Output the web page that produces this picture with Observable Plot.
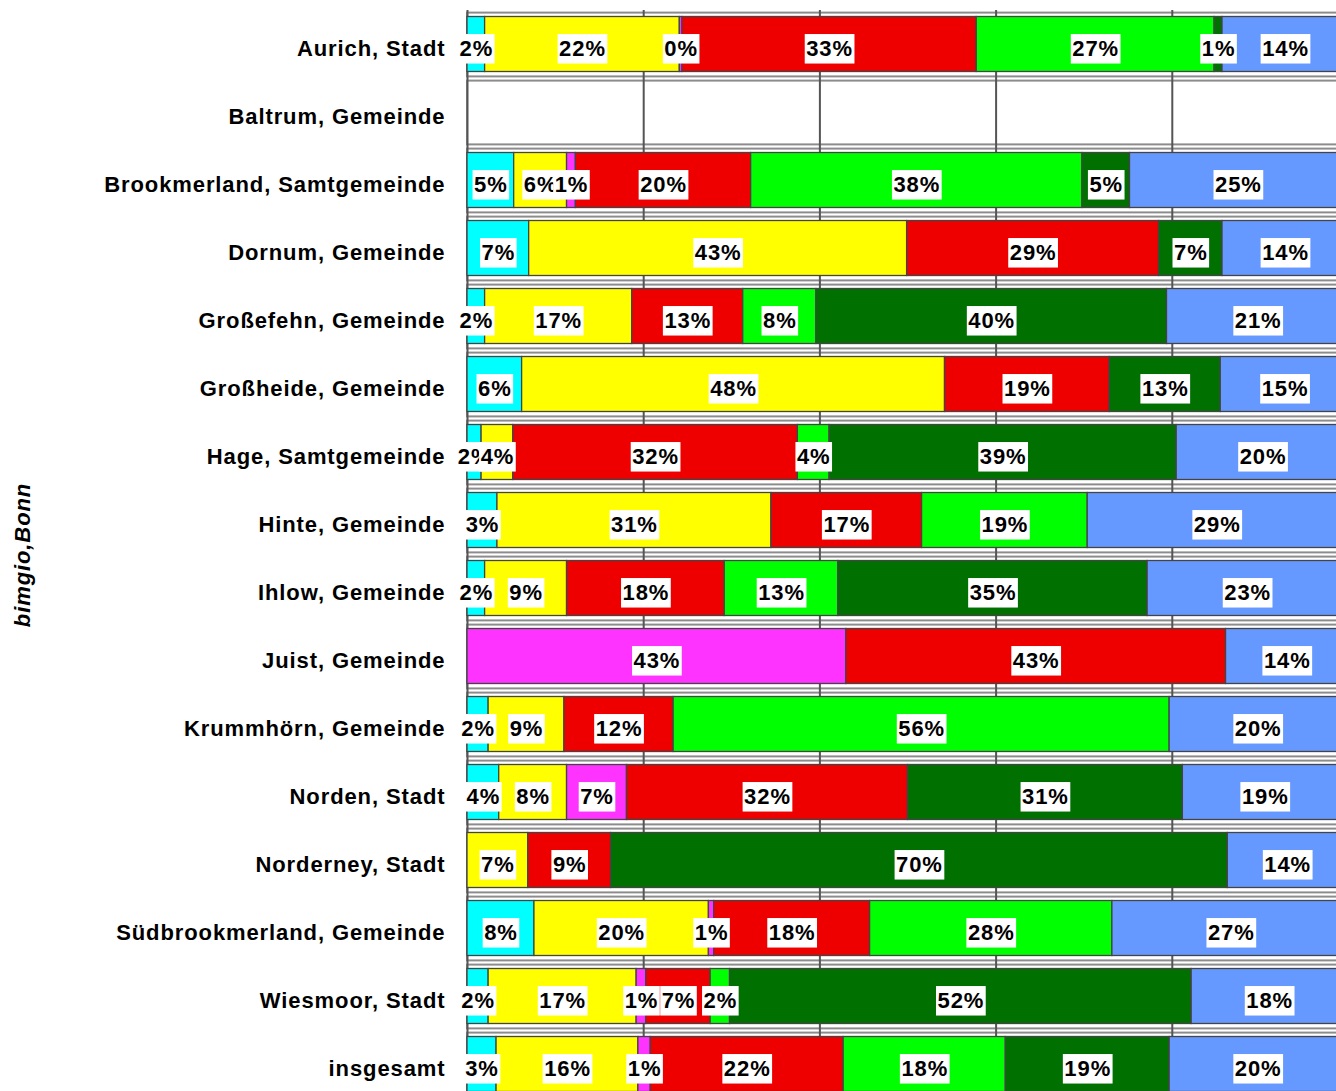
<!DOCTYPE html>
<html><head><meta charset="utf-8">
<script src="https://cdn.jsdelivr.net/npm/d3@7"></script>
<script src="https://cdn.jsdelivr.net/npm/@observablehq/plot@0.6"></script>
<style>
html,body{margin:0;padding:0;background:#fff;overflow:hidden;}
#chart svg text{letter-spacing:0.9px;}
</style></head><body><div id="chart"></div>
<script>
const categories = ["Aurich, Stadt","Baltrum, Gemeinde","Brookmerland, Samtgemeinde","Dornum, Gemeinde","Großefehn, Gemeinde","Großheide, Gemeinde","Hage, Samtgemeinde","Hinte, Gemeinde","Ihlow, Gemeinde","Juist, Gemeinde","Krummhörn, Gemeinde","Norden, Stadt","Norderney, Stadt","Südbrookmerland, Gemeinde","Wiesmoor, Stadt","insgesamt"];
const seriesNames = ["S1","S2","S3","S4","S5","S6","S7"];
const seriesColors = ["#00ffff","#ffff00","#ff33ff","#ee0000","#00ff00","#007000","#6699ff"];
const s1 = [2.0, null, 5.3, 7.0, 2.0, 6.2, 1.6, 3.4, 2.0, null, 2.4, 3.6, null, 7.6, 2.4, 3.3];
const s2 = [22.1, null, 6.0, 42.9, 16.7, 48.0, 3.6, 31.1, 9.3, null, 8.6, 7.7, 6.9, 19.8, 16.8, 16.1];
const s3 = [0.3, null, 1.0, null, null, null, null, null, null, 43.0, null, 6.8, null, 0.6, 1.1, 1.4];
const s4 = [33.4, null, 19.9, 28.6, 12.6, 18.7, 32.3, 17.1, 17.9, 43.1, 12.4, 31.9, 9.4, 17.7, 7.3, 21.9];
const s5 = [27.0, null, 37.6, null, 8.3, null, 3.6, 18.8, 12.9, null, 56.3, null, null, 27.5, 2.2, 18.4];
const s6 = [0.9, null, 5.4, 7.2, 39.8, 12.6, 39.4, null, 35.1, null, null, 31.2, 70.0, null, 52.4, 18.6];
const s7 = [14.3, null, 24.6, 14.3, 20.7, 14.6, 19.6, 29.4, 22.7, 13.9, 20.1, 18.7, 13.6, 27.0, 17.7, 20.1];
const gridTicks = [0, 20, 40, 60, 80];
const yTitle = "bimgio,Bonn";

const seriesValues = [s1, s2, s3, s4, s5, s6, s7];
const data = [];
categories.forEach((cat, i) => {
  seriesNames.forEach((s, j) => {
    const v = seriesValues[j][i];
    if (v != null && v > 0) data.push({cat, series: s, value: v});
  });
});

const W = 1336, H = 1091;
const chart = Plot.plot({
  width: W, height: H,
  marginLeft: 467, marginRight: 0, marginTop: 0, marginBottom: 0,
  style: {fontFamily: "'Liberation Sans', Arial, sans-serif", fontSize: "22px", background: "#fff", overflow: "hidden"},
  x: {domain: [0, 100], range: [467, 1348], axis: null},
  y: {domain: categories, range: [9.4, 9.4 + 16 * 68.13], padding: 0},
  color: {type: "ordinal", domain: seriesNames, range: seriesColors},
  marks: [
    Plot.barX(categories, {x1: 0, x2: 130, y: d => d, fill: "none", stroke: "#8c8c8c", strokeWidth: 2, insetTop: 2.6, insetBottom: 1.6}),
    Plot.ruleX(gridTicks, {x: d => d, stroke: "#555", strokeWidth: 2, insetTop: 10}),
    Plot.barX(data, Plot.stackX({x: "value", y: "cat", fill: "series", stroke: "#444", strokeWidth: 1.3, insetTop: 6.5, insetBottom: 6.5})),
    Plot.text(data, Plot.stackX({x: "value", y: "cat", text: d => Math.round(d.value) + "%", fontSize: 22, fontWeight: "bold", fill: "#000", dy: 4})),
    Plot.axisY({tickSize: 0, tickPadding: 22, fontSize: 22, fontWeight: "bold", fill: "#000", dy: 4, label: null}),
    Plot.text([yTitle], {frameAnchor: "left", textAnchor: "middle", dx: -445, dy: 9, rotate: -90, fontSize: 22, fontWeight: "bold", fontStyle: "italic", fill: "#000"})
  ]
});
document.getElementById("chart").appendChild(chart);

// white boxes behind segment labels
const groups = chart.querySelectorAll('g[aria-label="text"]');
if (groups.length) {
  const g = groups[0];
  g.querySelectorAll("text").forEach(t => {
    const b = t.getBBox();
    const r = document.createElementNS("http://www.w3.org/2000/svg", "rect");
    r.setAttribute("x", b.x - 1.5);
    r.setAttribute("y", b.y - 1.5);
    r.setAttribute("width", b.width + 3);
    r.setAttribute("height", b.height + 4.5);
    r.setAttribute("fill", "#fff");
    const tr = t.getAttribute("transform");
    if (tr) r.setAttribute("transform", tr);
    g.insertBefore(r, t);
  });
}
</script></body></html>
